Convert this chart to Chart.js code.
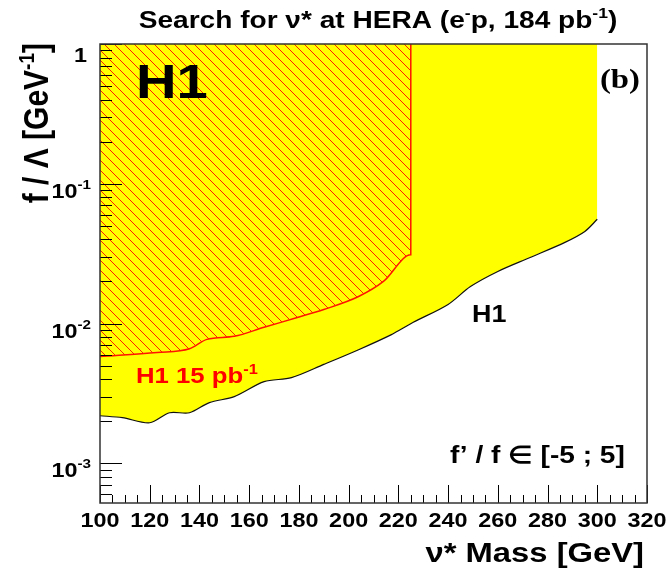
<!DOCTYPE html>
<html>
<head>
<meta charset="utf-8">
<script src="https://cdn.jsdelivr.net/npm/chart.js@4"></script>
<style>
  body { margin: 0; background: #fff; }
  canvas { display: block; }
</style>
</head>
<body>
<canvas id="limitChart" width="669" height="572"></canvas>
<script>
// H1 2006 limit (e-p, 184 pb-1)
const massH1 = [100, 109, 120, 128, 136, 144, 154, 166, 177, 190, 204, 217, 226, 240, 249, 260, 273, 287, 295, 300];
const limitH1 = [2.19e-3, 2.12e-3, 1.95e-3, 2.3e-3, 2.3e-3, 2.72e-3, 3.0e-3, 3.84e-3, 4.1e-3, 5.1e-3,
                 6.5e-3, 8.3e-3, 1.02e-2, 1.37e-2, 1.84e-2, 2.36e-2, 2.97e-2, 3.81e-2, 4.56e-2, 5.57e-2];

// older H1 limit (15 pb-1), closed at the top at M = 225
const mass15 = [100, 123, 136, 143, 154, 166, 179, 190, 204, 214, 225, 225];
const limit15 = [5.8e-3, 6.2e-3, 6.6e-3, 7.7e-3, 8.1e-3, 9.4e-3, 1.1e-2, 1.26e-2, 1.56e-2, 2.0e-2, 3.1e-2, 1];

const xTicks = [100, 120, 140, 160, 180, 200, 220, 240, 260, 280, 300, 320];
const yDecades = [1, 1e-1, 1e-2, 1e-3];
const yLabels = ['1', '-1', '-2', '-3'];

const SX = 1.17; // text in the picture is a bit wider than tall
const FONT = '"Liberation Sans", Arial, sans-serif';

function toPoints(xs, ys) {
  return xs.map((x, i) => ({ x: x, y: ys[i] }));
}

function hatchPattern() {
  const c = document.createElement('canvas');
  c.width = 10; c.height = 10;
  const g = c.getContext('2d');
  g.strokeStyle = 'rgb(255,30,0)';
  g.lineWidth = 1;
  g.beginPath();
  g.moveTo(0, 0); g.lineTo(10, 10);
  g.moveTo(-2, 8); g.lineTo(2, 12);
  g.moveTo(8, -2); g.lineTo(12, 2);
  g.stroke();
  return g.createPattern(c, 'repeat');
}

// draws text made of parts (for superscripts), stretched by SX
function rich(ctx, x, y, parts, align, color, rot) {
  let w = 0;
  parts.forEach(p => { ctx.font = p.font; p.w = ctx.measureText(p.t).width; w += p.w; });
  ctx.save();
  ctx.translate(x, y);
  if (rot) { ctx.rotate(-Math.PI / 2); ctx.scale(1, SX); }
  else ctx.scale(SX, 1);
  let cx = align === 'right' ? -w : align === 'center' ? -w / 2 : 0;
  ctx.fillStyle = color || '#000';
  ctx.textAlign = 'left';
  ctx.textBaseline = 'alphabetic';
  parts.forEach(p => { ctx.font = p.font; ctx.fillText(p.t, cx, p.dy || 0); cx += p.w; });
  ctx.restore();
}

const frame = {
  id: 'frame',
  afterDraw(chart) {
    const ctx = chart.ctx;
    const a = chart.chartArea;
    const xs = chart.scales.x, ys = chart.scales.y;

    ctx.save();
    ctx.strokeStyle = '#000';
    ctx.lineWidth = 1;
    ctx.beginPath();
    // bottom axis ticks (inside)
    for (let m = 100; m <= 320; m += 5) {
      const px = Math.round(xs.getPixelForValue(m)) + 0.5;
      const len = m % 20 === 0 ? 18 : 8;
      ctx.moveTo(px, a.bottom); ctx.lineTo(px, a.bottom - len);
    }
    // left axis ticks (inside)
    for (let e = -4; e <= 0; e++) {
      for (let k = 1; k <= 9; k++) {
        const v = k * Math.pow(10, e);
        if (v < ys.min || v > ys.max) continue;
        const py = Math.round(ys.getPixelForValue(v)) + 0.5;
        const len = k === 1 ? 22 : 12;
        ctx.moveTo(a.left, py); ctx.lineTo(a.left + len, py);
      }
    }
    ctx.stroke();

    ctx.strokeStyle = '#333';
    ctx.lineWidth = 1.5;
    ctx.strokeRect(a.left, a.top, a.right - a.left, a.bottom - a.top);
    ctx.restore();

    const tf = 'bold 20px ' + FONT;
    const sf = 'bold 13px ' + FONT;
    xTicks.forEach(m => {
      rich(ctx, xs.getPixelForValue(m), 527, [{ t: String(m), font: tf }], 'center');
    });
    yDecades.forEach((v, i) => {
      const py = ys.getPixelForValue(v);
      if (v === 1) rich(ctx, 87, py + 18, [{ t: '1', font: tf }], 'right');
      else rich(ctx, 91, py + 14, [{ t: '10', font: tf }, { t: yLabels[i], font: sf, dy: -9 }], 'right');
    });

    // titles
    const b24 = 'bold 24px ' + FONT, b15 = 'bold 15px ' + FONT;
    rich(ctx, 378, 28, [
      { t: 'Search for \u03BD* at HERA (e', font: b24 },
      { t: '-', font: b15, dy: -10 },
      { t: 'p, 184 pb', font: b24 },
      { t: '-1', font: b15, dy: -10 },
      { t: ')', font: b24 }
    ], 'center');
    rich(ctx, 644, 562, [{ t: '\u03BD* Mass [GeV]', font: 'bold 28px ' + FONT }], 'right');
    rich(ctx, 48, 43, [
      { t: 'f / \u039B [GeV', font: 'bold 30px ' + FONT },
      { t: '-1', font: 'bold 19px ' + FONT, dy: -12 },
      { t: ']', font: 'bold 30px ' + FONT }
    ], 'right', '#000', true);

    // labels inside the frame
    rich(ctx, 136, 98, [{ t: 'H1', font: 'bold 48px ' + FONT }], 'left');
    rich(ctx, 640, 88, [{ t: '(b)', font: 'bold 28px "Liberation Serif", serif' }], 'right');
    rich(ctx, 136, 383, [
      { t: 'H1 15 pb', font: 'bold 22px ' + FONT },
      { t: '-1', font: 'bold 14px ' + FONT, dy: -9 }
    ], 'left', 'rgb(255,0,0)');
    rich(ctx, 472, 322, [{ t: 'H1', font: 'bold 23px ' + FONT }], 'left');
    rich(ctx, 450, 463, [{ t: 'f\u2019 / f \u2208 [-5 ; 5]', font: 'bold 24px ' + FONT }], 'left');
  }
};

const ctx = document.getElementById('limitChart').getContext('2d');
new Chart(ctx, {
  type: 'line',
  data: {
    datasets: [
      {
        label: 'H1 15 pb-1',
        data: toPoints(mass15, limit15),
        borderColor: 'rgb(255,20,0)',
        borderWidth: 1.5,
        backgroundColor: hatchPattern(),
        fill: 'end',
        pointRadius: 0,
        cubicInterpolationMode: 'monotone'
      },
      {
        label: 'H1',
        data: toPoints(massH1, limitH1),
        borderColor: '#111',
        borderWidth: 1.2,
        backgroundColor: 'rgb(255,255,0)',
        fill: 'end',
        pointRadius: 0,
        tension: 0.3
      }
    ]
  },
  options: {
    responsive: false,
    animation: false,
    devicePixelRatio: 1,
    layout: { padding: { left: 100, right: 22, top: 44, bottom: 69 } },
    plugins: { legend: { display: false }, tooltip: { enabled: false } },
    scales: {
      x: { type: 'linear', min: 100, max: 320, display: false },
      y: { type: 'logarithmic', min: 5.2e-4, max: 1, display: false }
    }
  },
  plugins: [frame]
});
</script>
</body>
</html>
